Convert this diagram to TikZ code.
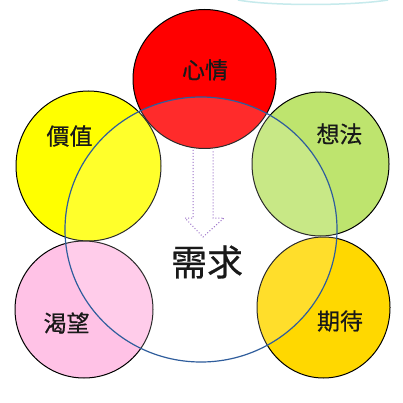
\documentclass[tikz,border=0pt]{standalone}
\usepackage{fontspec}
\newfontfamily\cjk[FakeBold=0.6]{Noto Sans CJK TC}
\usetikzlibrary{shapes.geometric}
\definecolor{cred}{HTML}{FF0000}
\definecolor{cyellow}{HTML}{FFFF00}
\definecolor{cgreen}{HTML}{BEE46E}
\definecolor{cpink}{HTML}{FFC2E6}
\definecolor{cgold}{HTML}{FFD800}
\definecolor{cblue}{HTML}{2F5D9C}
\definecolor{cpurple}{HTML}{9A6FC8}
\definecolor{cteal}{HTML}{C6EAEC}
\tikzset{
  bubble/.style={ellipse, draw=black, line width=1pt, inner sep=0pt},
  lbl/.style={font=\cjk\fontsize{23}{23}\selectfont, text=black!90, inner sep=0pt},
}
\begin{document}
\begin{tikzpicture}[x=1pt,y=-1pt]
\useasboundingbox (0,0) rectangle (403,403);
\fill[white] (0,0) rectangle (403,403);
% faint teal arc at top
\draw[cteal, line width=1.5pt] (238,0) .. controls (270,6) and (350,6) .. (388,0);
% circles
\node[bubble, fill=cred, minimum width=143pt, minimum height=139pt] (xq) at (204.5,79) {};
\node[bubble, fill=cyellow, minimum width=145pt, minimum height=150pt] (jz) at (88.5,166) {};
\node[bubble, fill=cgreen, minimum width=137pt, minimum height=144pt] (xf) at (320.5,164) {};
\node[bubble, fill=cpink, minimum width=138pt, minimum height=137pt] (kw) at (84,309.5) {};
\node[bubble, fill=cgold, minimum width=133pt, minimum height=141pt] (qd) at (323.5,307.5) {};
% big blue ellipse
\node[ellipse, draw=cblue, line width=1.2pt, fill=white, fill opacity=0.17, draw opacity=1, inner sep=0pt, minimum width=272pt, minimum height=265pt] (xqbig) at (201,229.5) {};
% arrow
\coordinate (a1) at (193,150);
\coordinate (a2) at (213,150);
\draw[cpurple, line width=1pt, dash pattern=on 1pt off 2pt] (a1) -- (193,218) -- (185,218) -- (203,237) -- (224,218) -- (213,218) -- (a2);
% labels
\node[lbl] (t1) at (205,70) {心情};
\node[lbl] (t2) at (69.5,136) {價值};
\node[lbl] (t3) at (339.5,134) {想法};
\node[lbl] (t4) at (66.5,323) {渴望};
\node[lbl] (t5) at (340,321) {期待};
\node[font=\cjk\fontsize{36}{36}\selectfont, text=black!90, inner sep=0pt] (t6) at (207,262) {需求};
\end{tikzpicture}
\end{document}
